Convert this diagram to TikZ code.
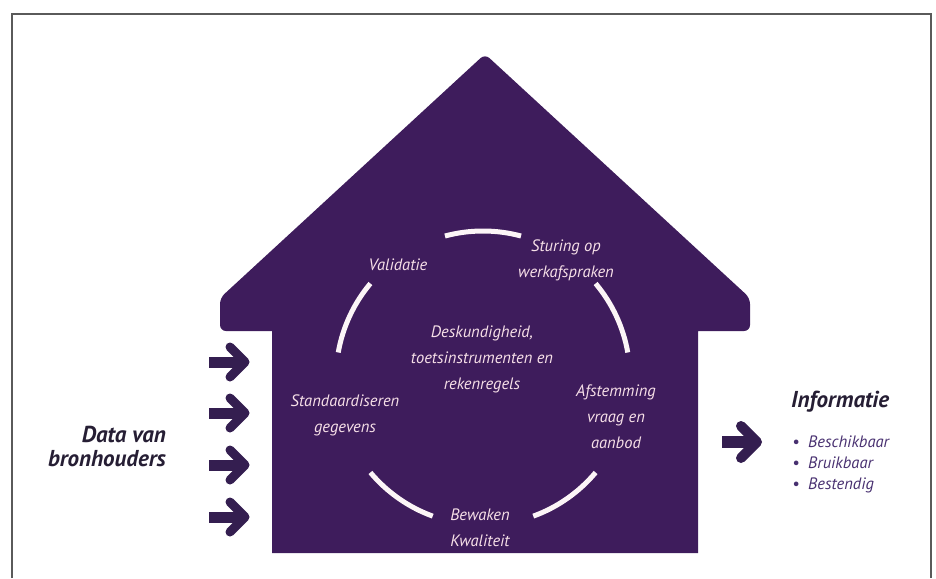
\documentclass[tikz,border=0pt]{standalone}
\usepackage{fontspec}
\setmainfont{PT Sans}
\usepackage{tikz}
\definecolor{housepurple}{RGB}{62,28,92}
\definecolor{arrowpurple}{RGB}{52,30,80}
\definecolor{darktext}{RGB}{38,30,52}
\definecolor{listpurple}{RGB}{72,48,112}
\definecolor{framegray}{RGB}{90,90,90}
\tikzstyle{housetext}=[text=white!88!purple, font=\itshape\fontsize{16.5}{26}\selectfont, align=center, inner sep=0pt]
\tikzstyle{ringarc}=[draw=white!96!purple, line width=5pt]
\tikzstyle{arrowshaft}=[draw=arrowpurple, line width=11pt]
\tikzstyle{arrowhead}=[draw=arrowpurple, line width=9pt, line cap=round, line join=round]
\tikzstyle{sidetext}=[text=darktext, font=\bfseries\itshape\fontsize{23}{24}\selectfont, inner sep=0pt]
\tikzstyle{listtext}=[text=listpurple, font=\itshape\fontsize{16.5}{21}\selectfont, inner sep=0pt]

\begin{document}
\begin{tikzpicture}[x=1pt, y=1pt]
    \useasboundingbox (0,0) rectangle (936,-578);
    \draw[framegray, line width=1.5pt] (12,-578) -- (12,-14) -- (931,-14) -- (931,-578);

    % house
    \fill[housepurple] (272,-553) -- (272,-331) [rounded corners=6pt] -- (220,-331) -- (220,-298)
        -- (485,-54) -- (750,-298) -- (750,-331) [sharp corners] -- (698,-331) -- (698,-553) -- cycle;

    % ring
    \coordinate (ring) at (483,-378);
    \foreach \from/\to in {75/105, 140/170, 220/250, 290/320, 10/40}
        \draw[ringarc] (ring) ++(\from:147) arc[start angle=\from, end angle=\to, radius=147];

    \node[housetext] (validatie) at (398,-265) {Validatie};
    \node[housetext] (sturing) at (566,-260) {Sturing op\\werkafspraken};
    \node[housetext] (deskundig) at (482,-359) {Deskundigheid,\\toetsinstrumenten en\\rekenregels};
    \node[housetext] (standaard) at (345,-415) {Standaardiseren\\gegevens};
    \node[housetext] (afstemming) at (616,-417) {Afstemming\\vraag en\\aanbod};
    \node[housetext] (bewaken) at (480,-528) {Bewaken\\Kwaliteit};

    % incoming data
    \node[sidetext, anchor=east, align=right] (data) at (166,-446) {Data van\\bronhouders};
    \foreach \y/\name in {362/a, 413/b, 465/c, 517/d} {
        \coordinate (in\name) at (209,-\y);
        \coordinate (tip\name) at (245,-\y);
        \draw[arrowshaft] (in\name) -- ([xshift=-4pt]tip\name);
        \draw[arrowhead] ([shift={(-15,15)}]tip\name) -- (tip\name) -- ([shift={(-15,-15)}]tip\name);
    }

    % outgoing information
    \coordinate (out) at (722,-442);
    \coordinate (outtip) at (757,-442);
    \draw[arrowshaft, line width=12pt] (out) -- ([xshift=-4pt]outtip);
    \draw[arrowhead, line width=10pt] ([shift={(-16,16)}]outtip) -- (outtip) -- ([shift={(-16,-16)}]outtip);

    \node[sidetext, anchor=west] (informatie) at (791,-402) {Informatie};
    \node[listtext, anchor=north west, align=left] (kenmerken) at (792,-436)
        {\makebox[16pt][l]{•}Beschikbaar\\\makebox[16pt][l]{•}Bruikbaar\\\makebox[16pt][l]{•}Bestendig};
\end{tikzpicture}
\end{document}
